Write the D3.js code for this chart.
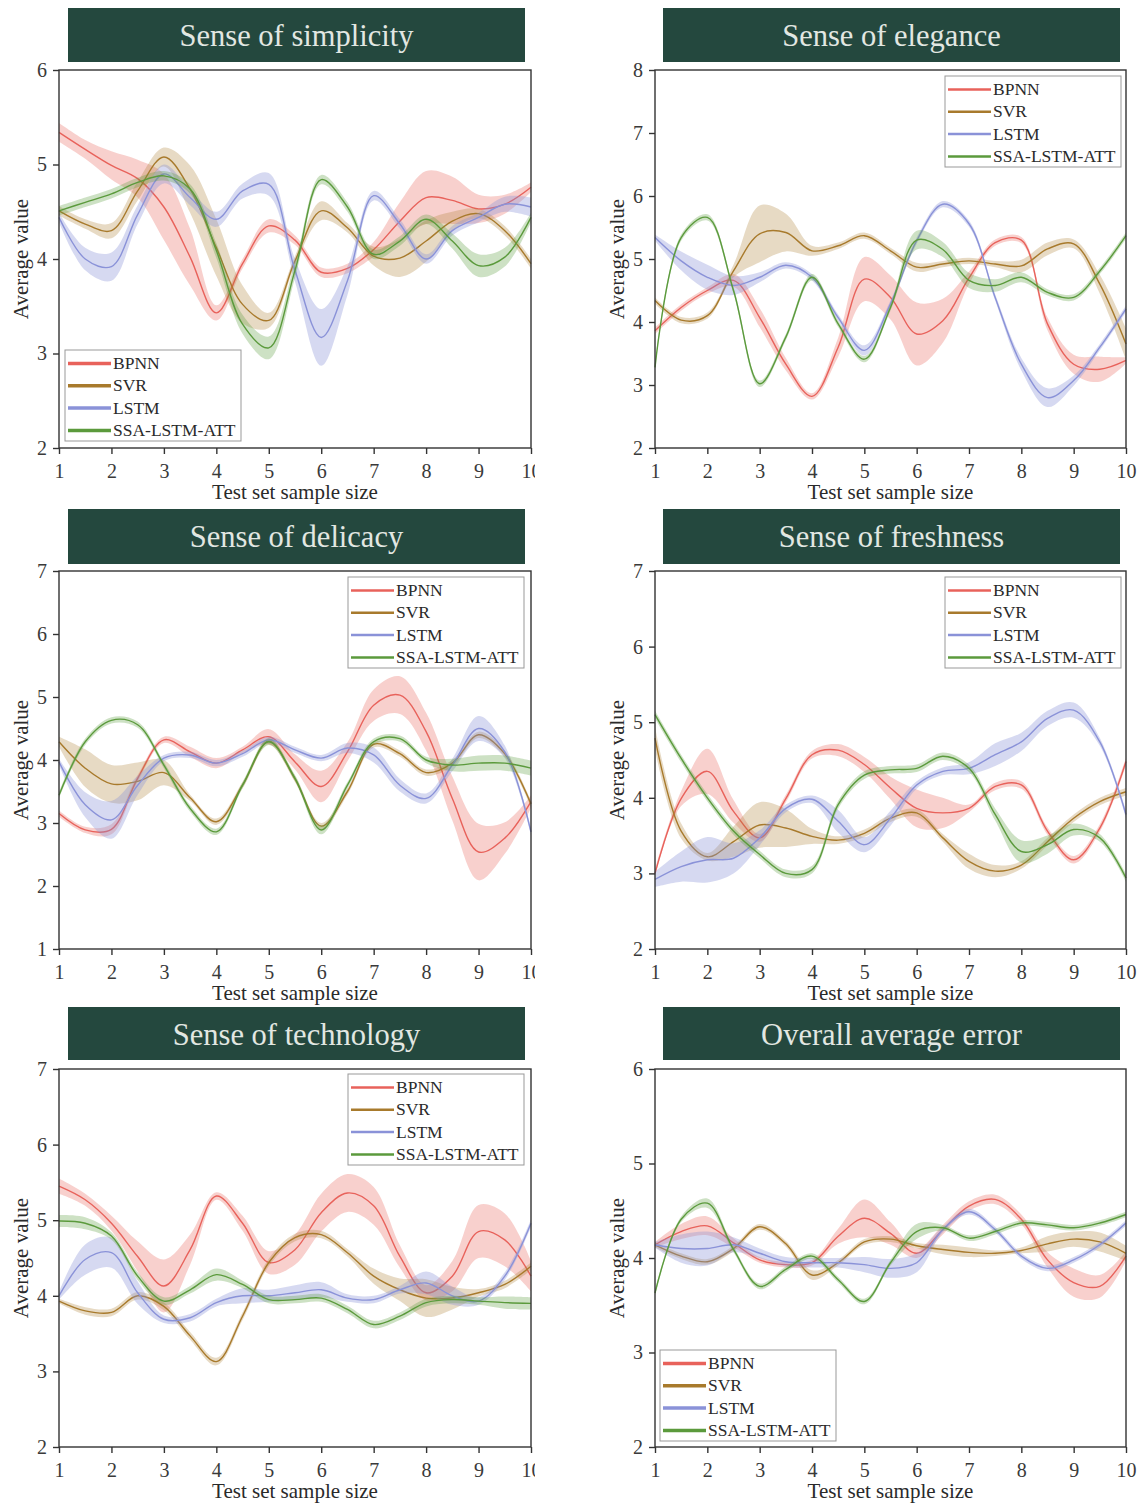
<!DOCTYPE html>
<html>
<head>
<meta charset="utf-8">
<script src="https://cdn.jsdelivr.net/npm/d3@7"></script>
<style>
  body { margin: 0; background: #fff; }
  svg { display: block; }
  text { font-family: "Liberation Serif", "Times New Roman", serif; }
</style>
</head>
<body>
<svg id="chart" width="1143" height="1504"></svg>
<script>
// x positions (test set sample size), read every half step
const xs = [1, 1.5, 2, 2.5, 3, 3.5, 4, 4.5, 5, 5.5, 6, 6.5, 7, 7.5, 8, 8.5, 9, 9.5, 10]
const xTicks = [1, 2, 3, 4, 5, 6, 7, 8, 9, 10]
const models = ['BPNN', 'SVR', 'LSTM', 'SSA-LSTM-ATT']

// sense of simplicity
const simBPNN = [5.34, 5.16, 4.99, 4.85, 4.55, 4.02, 3.43, 3.95, 4.35, 4.2, 3.86, 3.9, 4.1, 4.4, 4.65, 4.62, 4.53, 4.58, 4.76]
const simBPNNsd = [0.1, 0.1, 0.15, 0.2, 0.35, 0.3, 0.08, 0.05, 0.07, 0.05, 0.05, 0.05, 0.08, 0.2, 0.28, 0.25, 0.15, 0.1, 0.05]
const simSVR = [4.51, 4.37, 4.3, 4.72, 5.08, 4.74, 4.12, 3.52, 3.35, 3.98, 4.51, 4.33, 4.03, 4.01, 4.19, 4.4, 4.48, 4.3, 3.95]
const simSVRsd = [0.05, 0.05, 0.08, 0.1, 0.1, 0.25, 0.3, 0.2, 0.08, 0.05, 0.1, 0.05, 0.1, 0.2, 0.22, 0.1, 0.05, 0.05, 0.05]
const simLSTM = [4.44, 4.0, 3.92, 4.47, 4.9, 4.65, 4.42, 4.72, 4.79, 3.88, 3.17, 3.77, 4.67, 4.37, 4.0, 4.3, 4.44, 4.58, 4.55]
const simLSTMsd = [0.05, 0.12, 0.15, 0.1, 0.1, 0.08, 0.08, 0.08, 0.12, 0.12, 0.3, 0.15, 0.05, 0.05, 0.05, 0.05, 0.05, 0.08, 0.1]
const simSSA = [4.51, 4.6, 4.69, 4.81, 4.88, 4.74, 4.09, 3.31, 3.06, 3.88, 4.84, 4.55, 4.05, 4.19, 4.42, 4.19, 3.93, 4.02, 4.44]
const simSSAsd = [0.05, 0.05, 0.05, 0.05, 0.05, 0.05, 0.08, 0.1, 0.12, 0.08, 0.05, 0.05, 0.05, 0.05, 0.05, 0.08, 0.12, 0.1, 0.05]

// sense of elegance
const eleBPNN = [3.86, 4.23, 4.5, 4.66, 4.07, 3.33, 2.82, 3.6, 4.68, 4.39, 3.81, 4.02, 4.7, 5.26, 5.3, 3.97, 3.33, 3.25, 3.39]
const eleBPNNsd = [0.05, 0.05, 0.05, 0.1, 0.15, 0.1, 0.05, 0.15, 0.35, 0.35, 0.5, 0.35, 0.1, 0.05, 0.05, 0.1, 0.15, 0.2, 0.05]
const eleSVR = [4.34, 4.03, 4.1, 4.81, 5.4, 5.42, 5.13, 5.21, 5.37, 5.13, 4.87, 4.92, 4.97, 4.92, 4.89, 5.16, 5.24, 4.6, 3.65]
const eleSVRsd = [0.05, 0.05, 0.05, 0.1, 0.45, 0.3, 0.08, 0.05, 0.05, 0.05, 0.07, 0.05, 0.05, 0.05, 0.1, 0.1, 0.07, 0.15, 0.25]
const eleLSTM = [5.34, 4.97, 4.71, 4.58, 4.71, 4.9, 4.71, 4.07, 3.55, 4.29, 5.29, 5.87, 5.56, 4.39, 3.33, 2.8, 3.07, 3.6, 4.21]
const eleLSTMsd = [0.05, 0.15, 0.2, 0.15, 0.08, 0.05, 0.05, 0.05, 0.08, 0.05, 0.05, 0.05, 0.05, 0.05, 0.1, 0.15, 0.08, 0.05, 0.05]
const eleSSA = [3.28, 5.34, 5.66, 4.5, 3.02, 3.76, 4.71, 3.97, 3.41, 4.23, 5.3, 5.15, 4.66, 4.58, 4.71, 4.47, 4.39, 4.81, 5.37]
const eleSSAsd = [0.05, 0.05, 0.05, 0.05, 0.05, 0.05, 0.05, 0.05, 0.05, 0.05, 0.15, 0.12, 0.12, 0.1, 0.08, 0.05, 0.05, 0.05, 0.05]

// sense of delicacy
const delBPNN = [3.15, 2.89, 2.9, 3.71, 4.32, 4.13, 3.95, 4.16, 4.37, 3.97, 3.58, 4.13, 4.87, 5.03, 4.45, 3.39, 2.54, 2.76, 3.34]
const delBPNNsd = [0.05, 0.05, 0.08, 0.05, 0.05, 0.08, 0.08, 0.05, 0.12, 0.12, 0.25, 0.15, 0.25, 0.3, 0.3, 0.35, 0.45, 0.25, 0.1]
const delSVR = [4.29, 3.87, 3.62, 3.66, 3.8, 3.4, 3.02, 3.6, 4.3, 3.7, 2.95, 3.5, 4.25, 4.1, 3.8, 3.95, 4.4, 4.1, 3.3]
const delSVRsd = [0.08, 0.3, 0.3, 0.3, 0.2, 0.05, 0.05, 0.05, 0.05, 0.05, 0.05, 0.05, 0.05, 0.05, 0.05, 0.05, 0.05, 0.05, 0.05]
const delLSTM = [3.97, 3.29, 3.05, 3.6, 4.03, 4.08, 3.95, 4.1, 4.32, 4.16, 4.03, 4.19, 4.08, 3.6, 3.39, 3.92, 4.5, 4.13, 2.86]
const delLSTMsd = [0.05, 0.2, 0.3, 0.15, 0.05, 0.05, 0.05, 0.05, 0.05, 0.05, 0.05, 0.08, 0.12, 0.1, 0.08, 0.1, 0.2, 0.1, 0.05]
const delSSA = [3.44, 4.29, 4.63, 4.56, 3.92, 3.23, 2.86, 3.6, 4.29, 3.71, 2.89, 3.6, 4.29, 4.34, 4.0, 3.92, 3.95, 3.95, 3.87]
const delSSAsd = [0.05, 0.05, 0.05, 0.05, 0.05, 0.05, 0.05, 0.05, 0.05, 0.05, 0.07, 0.05, 0.05, 0.05, 0.05, 0.1, 0.12, 0.12, 0.12]

// sense of freshness
const freBPNN = [3.0, 3.99, 4.35, 3.82, 3.47, 3.99, 4.57, 4.63, 4.44, 4.13, 3.86, 3.8, 3.86, 4.15, 4.17, 3.56, 3.18, 3.6, 4.48]
const freBPNNsd = [0.05, 0.1, 0.3, 0.15, 0.05, 0.05, 0.05, 0.08, 0.1, 0.15, 0.25, 0.2, 0.05, 0.05, 0.05, 0.05, 0.05, 0.05, 0.05]
const freSVR = [4.79, 3.56, 3.22, 3.42, 3.64, 3.6, 3.49, 3.44, 3.53, 3.73, 3.8, 3.47, 3.16, 3.03, 3.11, 3.42, 3.73, 3.95, 4.08]
const freSVRsd = [0.15, 0.1, 0.05, 0.2, 0.3, 0.25, 0.1, 0.05, 0.05, 0.05, 0.05, 0.05, 0.1, 0.08, 0.05, 0.05, 0.05, 0.05, 0.05]
const freLSTM = [2.92, 3.09, 3.18, 3.2, 3.47, 3.86, 3.98, 3.69, 3.38, 3.73, 4.17, 4.35, 4.39, 4.57, 4.74, 5.05, 5.16, 4.74, 3.78]
const freLSTMsd = [0.1, 0.2, 0.3, 0.2, 0.1, 0.05, 0.05, 0.15, 0.1, 0.1, 0.05, 0.05, 0.08, 0.15, 0.12, 0.1, 0.1, 0.05, 0.05]
const freSSA = [5.1, 4.52, 4.0, 3.56, 3.25, 3.0, 3.05, 3.91, 4.3, 4.37, 4.39, 4.55, 4.39, 3.78, 3.29, 3.38, 3.58, 3.47, 2.94]
const freSSAsd = [0.05, 0.05, 0.05, 0.05, 0.05, 0.05, 0.05, 0.05, 0.05, 0.05, 0.05, 0.05, 0.05, 0.08, 0.15, 0.12, 0.08, 0.05, 0.05]

// sense of technology
const tecBPNN = [5.45, 5.27, 4.96, 4.52, 4.13, 4.61, 5.32, 4.96, 4.44, 4.61, 5.1, 5.36, 5.19, 4.52, 4.04, 4.26, 4.85, 4.74, 4.26]
const tecBPNNsd = [0.1, 0.08, 0.1, 0.2, 0.35, 0.2, 0.05, 0.1, 0.15, 0.2, 0.25, 0.25, 0.25, 0.15, 0.1, 0.2, 0.35, 0.35, 0.2]
const tecSVR = [3.93, 3.8, 3.78, 4.0, 3.86, 3.47, 3.13, 3.73, 4.44, 4.77, 4.81, 4.57, 4.26, 4.08, 3.97, 3.97, 4.04, 4.15, 4.39]
const tecSVRsd = [0.03, 0.05, 0.05, 0.05, 0.05, 0.05, 0.05, 0.05, 0.05, 0.05, 0.05, 0.05, 0.1, 0.15, 0.25, 0.15, 0.05, 0.05, 0.05]
const tecLSTM = [4.0, 4.48, 4.57, 4.04, 3.69, 3.71, 3.91, 4.0, 4.0, 4.04, 4.08, 3.97, 3.95, 4.08, 4.17, 4.0, 3.93, 4.26, 4.96]
const tecLSTMsd = [0.05, 0.2, 0.2, 0.15, 0.05, 0.05, 0.05, 0.1, 0.08, 0.1, 0.1, 0.05, 0.05, 0.05, 0.15, 0.12, 0.05, 0.05, 0.05]
const tecSSA = [4.99, 4.96, 4.79, 4.26, 3.93, 4.08, 4.28, 4.15, 3.95, 3.95, 3.97, 3.82, 3.62, 3.73, 3.91, 3.95, 3.93, 3.91, 3.9]
const tecSSAsd = [0.08, 0.08, 0.05, 0.05, 0.05, 0.05, 0.08, 0.05, 0.05, 0.05, 0.05, 0.05, 0.05, 0.05, 0.05, 0.05, 0.05, 0.08, 0.08]

// overall average error
const allBPNN = [4.14, 4.28, 4.34, 4.16, 3.98, 3.93, 3.95, 4.23, 4.42, 4.26, 4.05, 4.3, 4.55, 4.62, 4.41, 3.98, 3.74, 3.7, 4.02]
const allBPNNsd = [0.03, 0.08, 0.1, 0.05, 0.03, 0.03, 0.03, 0.08, 0.2, 0.12, 0.05, 0.05, 0.05, 0.05, 0.05, 0.08, 0.15, 0.12, 0.05]
const allSVR = [4.14, 4.02, 3.96, 4.1, 4.33, 4.15, 3.82, 3.95, 4.17, 4.2, 4.13, 4.09, 4.06, 4.05, 4.08, 4.15, 4.2, 4.17, 4.05]
const allSVRsd = [0.03, 0.03, 0.03, 0.03, 0.03, 0.03, 0.05, 0.03, 0.03, 0.03, 0.03, 0.05, 0.05, 0.03, 0.03, 0.08, 0.08, 0.1, 0.08]
const allLSTM = [4.14, 4.1, 4.1, 4.14, 4.05, 3.96, 3.95, 3.95, 3.93, 3.89, 3.95, 4.3, 4.49, 4.3, 4.02, 3.89, 3.98, 4.14, 4.37]
const allLSTMsd = [0.03, 0.15, 0.18, 0.08, 0.05, 0.05, 0.05, 0.05, 0.08, 0.1, 0.1, 0.03, 0.03, 0.03, 0.03, 0.03, 0.03, 0.03, 0.03]
const allSSA = [3.63, 4.41, 4.58, 4.09, 3.7, 3.88, 4.02, 3.77, 3.54, 3.95, 4.28, 4.32, 4.21, 4.28, 4.37, 4.35, 4.32, 4.37, 4.46]
const allSSAsd = [0.03, 0.03, 0.05, 0.03, 0.03, 0.03, 0.03, 0.03, 0.03, 0.03, 0.08, 0.03, 0.03, 0.03, 0.03, 0.03, 0.03, 0.03, 0.03]

var colors = ['#e8625b', '#a87a2c', '#8a92d8', '#5b9a3c']
var bandOpacity = [0.3, 0.28, 0.35, 0.3]

var panels = [
  { title: 'Sense of simplicity', col: 0, row: 0, yDomain: [2, 6],
    series: [[simBPNN, simBPNNsd], [simSVR, simSVRsd], [simLSTM, simLSTMsd], [simSSA, simSSAsd]],
    legend: { x: 65, y: 350, thick: 3.5 } },
  { title: 'Sense of elegance', col: 1, row: 0, yDomain: [2, 8],
    series: [[eleBPNN, eleBPNNsd], [eleSVR, eleSVRsd], [eleLSTM, eleLSTMsd], [eleSSA, eleSSAsd]],
    legend: { x: 945, y: 76, thick: 2.5 } },
  { title: 'Sense of delicacy', col: 0, row: 1, yDomain: [1, 7],
    series: [[delBPNN, delBPNNsd], [delSVR, delSVRsd], [delLSTM, delLSTMsd], [delSSA, delSSAsd]],
    legend: { x: 348, y: 577, thick: 2.5 } },
  { title: 'Sense of freshness', col: 1, row: 1, yDomain: [2, 7],
    series: [[freBPNN, freBPNNsd], [freSVR, freSVRsd], [freLSTM, freLSTMsd], [freSSA, freSSAsd]],
    legend: { x: 945, y: 577, thick: 2.5 } },
  { title: 'Sense of technology', col: 0, row: 2, yDomain: [2, 7],
    series: [[tecBPNN, tecBPNNsd], [tecSVR, tecSVRsd], [tecLSTM, tecLSTMsd], [tecSSA, tecSSAsd]],
    legend: { x: 348, y: 1074, thick: 2.5 } },
  { title: 'Overall average error', col: 1, row: 2, yDomain: [2, 6],
    series: [[allBPNN, allBPNNsd], [allSVR, allSVRsd], [allLSTM, allLSTMsd], [allSSA, allSSAsd]],
    legend: { x: 660, y: 1350, thick: 3.5 } }
]

var colX = [[59, 531], [655, 1126]]
var rowY = [[70, 448], [571, 949], [1069, 1447]]
var bannerX = [[68, 525], [663, 1120]]
var bannerY = [[8, 62], [509, 564], [1007, 1060]]

var svg = d3.select('#chart')
svg.append('rect').attr('width', 1143).attr('height', 1504).attr('fill', '#fff')

svg.append('clipPath').attr('id', 'leftClip')
  .append('rect').attr('x', 0).attr('y', 0).attr('width', 535).attr('height', 1504)

function drawPanel(p) {
  var g = svg.append('g')
  if (p.col == 0) g.attr('clip-path', 'url(#leftClip)')

  var x0 = colX[p.col][0], x1 = colX[p.col][1]
  var y0 = rowY[p.row][0], y1 = rowY[p.row][1]

  // title banner
  var bx = bannerX[p.col], by = bannerY[p.row]
  g.append('rect')
    .attr('x', bx[0]).attr('y', by[0])
    .attr('width', bx[1] - bx[0]).attr('height', by[1] - by[0])
    .attr('fill', '#24483e')
  g.append('text')
    .attr('x', (bx[0] + bx[1]) / 2).attr('y', by[0] + 38)
    .attr('text-anchor', 'middle')
    .attr('font-size', 30.5)
    .attr('fill', '#e2e7e2')
    .text(p.title)

  var x = d3.scaleLinear().domain([1, 10]).range([x0, x1])
  var y = d3.scaleLinear().domain(p.yDomain).range([y1, y0])

  // bands + lines
  p.series.forEach(function (s, i) {
    var vals = s[0], sd = s[1]
    var pts = xs.map(function (xv, k) { return { x: xv, v: vals[k], s: sd[k] } })
    var area = d3.area()
      .x(function (d) { return x(d.x) })
      .y0(function (d) { return y(d.v - d.s) })
      .y1(function (d) { return y(d.v + d.s) })
      .curve(d3.curveCatmullRom.alpha(0.5))
    var line = d3.line()
      .x(function (d) { return x(d.x) })
      .y(function (d) { return y(d.v) })
      .curve(d3.curveCatmullRom.alpha(0.5))
    g.append('path').datum(pts)
      .attr('d', area)
      .attr('fill', colors[i])
      .attr('fill-opacity', bandOpacity[i])
    g.append('path').datum(pts)
      .attr('d', line)
      .attr('fill', 'none')
      .attr('stroke', colors[i])
      .attr('stroke-width', 1.4)
  })

  // frame
  g.append('rect')
    .attr('x', x0).attr('y', y0)
    .attr('width', x1 - x0).attr('height', y1 - y0)
    .attr('fill', 'none')
    .attr('stroke', '#333')
    .attr('stroke-width', 1.4)

  // axes
  var yTicks = d3.range(p.yDomain[0], p.yDomain[1] + 1)
  var xAxis = g.append('g')
    .attr('transform', 'translate(0,' + y1 + ')')
    .call(d3.axisBottom(x).tickValues(xTicks).tickFormat(d3.format('d')).tickSize(6).tickSizeOuter(0).tickPadding(10))
  var yAxis = g.append('g')
    .attr('transform', 'translate(' + x0 + ',0)')
    .call(d3.axisLeft(y).tickValues(yTicks).tickFormat(d3.format('d')).tickSize(6).tickSizeOuter(0).tickPadding(6))
  ;[xAxis, yAxis].forEach(function (a) {
    a.select('.domain').remove()
    a.selectAll('line').attr('stroke', '#333').attr('stroke-width', 1.4)
    a.selectAll('text')
      .attr('font-family', '"Liberation Serif", "Times New Roman", serif')
      .attr('font-size', 20)
      .attr('fill', '#3a3a3a')
  })

  g.append('text')
    .attr('x', (x0 + x1) / 2).attr('y', y1 + 51)
    .attr('text-anchor', 'middle')
    .attr('font-size', 21)
    .attr('fill', '#2a2a2a')
    .text('Test set sample size')
  g.append('text')
    .attr('transform', 'translate(' + (x0 - 31) + ',' + ((y0 + y1) / 2) + ') rotate(-90)')
    .attr('text-anchor', 'middle')
    .attr('font-size', 21)
    .attr('fill', '#2a2a2a')
    .text('Average value')

  // legend
  var lg = g.append('g').attr('transform', 'translate(' + p.legend.x + ',' + p.legend.y + ')')
  lg.append('rect')
    .attr('width', 176).attr('height', 91)
    .attr('fill', '#fff')
    .attr('stroke', '#999')
    .attr('stroke-width', 1)
  models.forEach(function (m, i) {
    var cy = 13.5 + i * 22.3
    lg.append('line')
      .attr('x1', 3).attr('x2', 46)
      .attr('y1', cy).attr('y2', cy)
      .attr('stroke', colors[i])
      .attr('stroke-width', p.legend.thick)
    lg.append('text')
      .attr('x', 48).attr('y', cy + 5.5)
      .attr('font-size', 17.5)
      .attr('fill', '#2a2a2a')
      .text(m)
  })
}

panels.forEach(drawPanel)
</script>
</body>
</html>
